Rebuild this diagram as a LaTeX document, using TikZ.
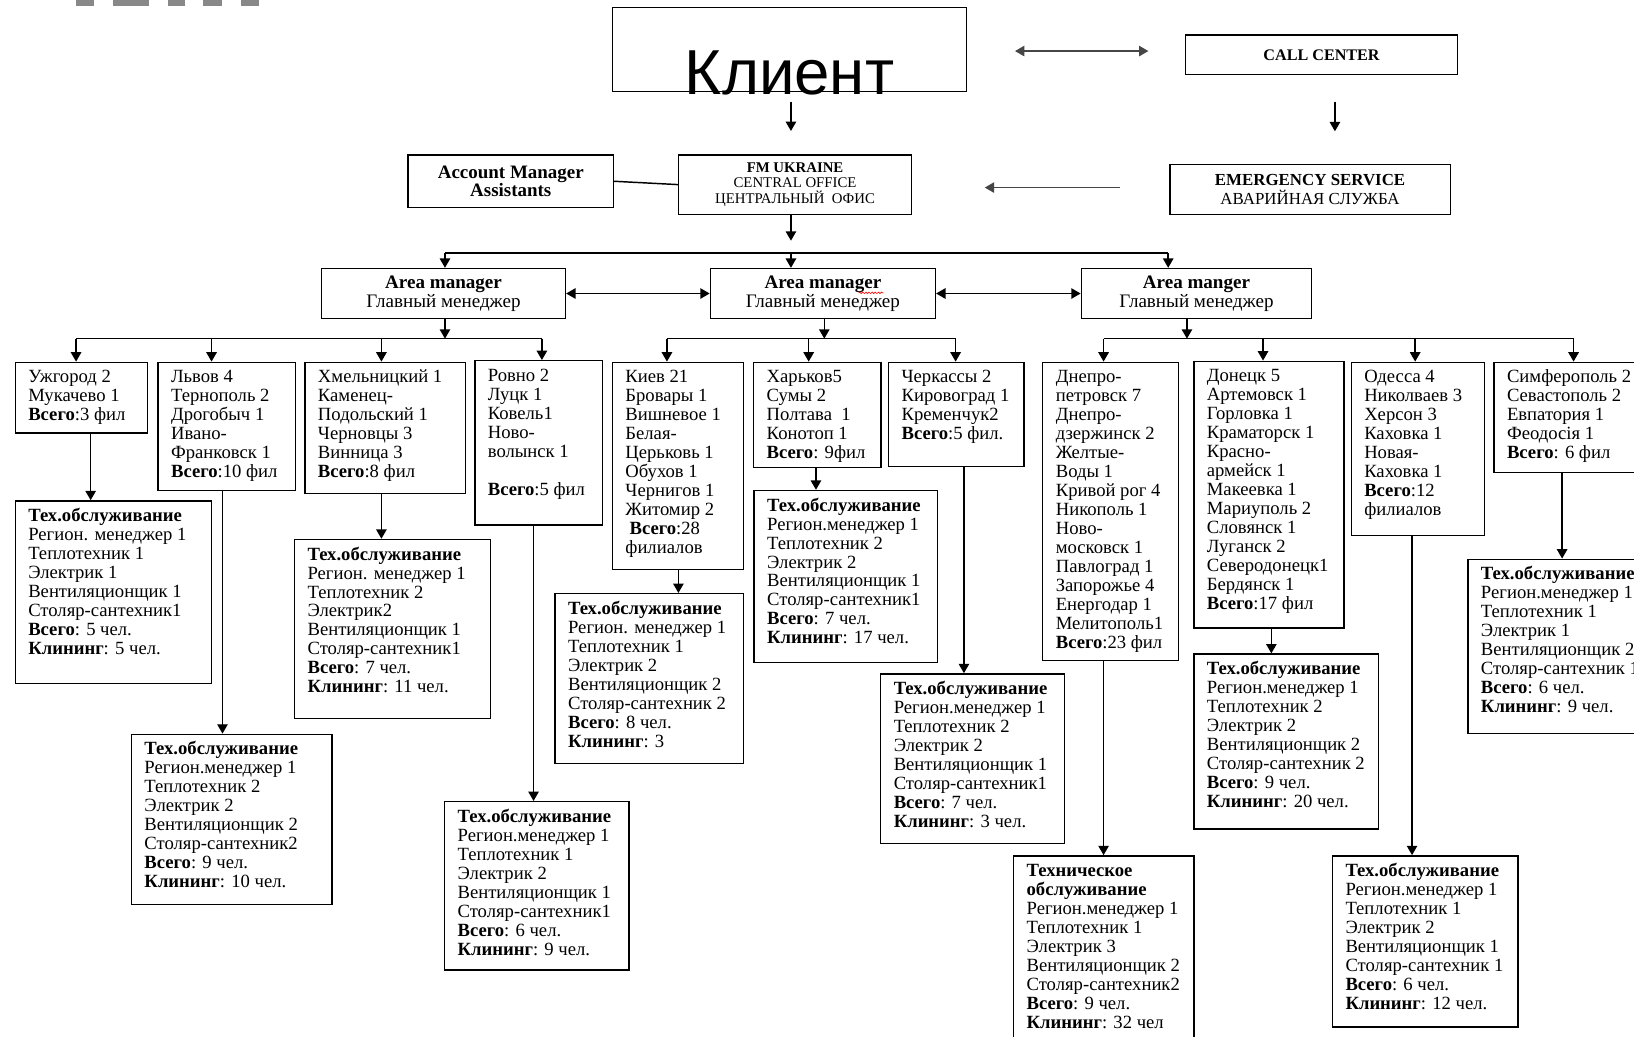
\documentclass[tikz,border=0pt]{standalone}
\usepackage{fontspec}
\setmainfont{Liberation Serif}
\newfontfamily\clientfont{Liberation Sans}
\usetikzlibrary{arrows.meta,decorations.pathmorphing}
\definecolor{linegray}{RGB}{70,70,70}
\definecolor{blockgray}{RGB}{136,136,136}

\tikzset{
  cell/.style 2 args={draw, line width=1.3pt, inner sep=0pt, anchor=north west,
    minimum width=#1, minimum height=#2},
  hdr/.style={draw, line width=1.3pt, inner sep=0pt, anchor=north west, align=center},
  areabox/.style={hdr, minimum height=48, font=\fontsize{18.3}{18}\selectfont},
  arr/.style={-{Triangle[length=9pt,width=10pt]}, line width=1.4pt},
  dblarr/.style={{Triangle[length=9pt,width=10pt]}-{Triangle[length=9pt,width=10pt]}, line width=1.4pt},
  bus/.style={line width=1.4pt},
}
% text of a box, set from its top left corner: width, height, lines
\newcommand{\cellbody}[3]{%
  \begin{minipage}[t][\dimexpr #2pt-14pt\relax][t]{\dimexpr #1pt-25pt\relax}%
    \begin{tabular}[t]{@{}l@{}}#3\end{tabular}%
  \end{minipage}}

\begin{document}
\begin{tikzpicture}[x=1pt, y=-1pt, font=\fontsize{17.9}{18.2}\selectfont]
\useasboundingbox[fill=white] (0,0) rectangle (1568,995);

\foreach \a/\b in {73/90, 108/143, 161/178, 195/213, 231/249}
  \fill[blockgray] (\a,0) rectangle (\b,5.5);

% top level
\node[hdr, minimum width=340, minimum height=80.6,
  label={[font=\clientfont\fontsize{61}{61}\selectfont, anchor=base, yshift=-2pt]south:Клиент}] (client) at (587,6.4) {};
\node[hdr, minimum width=261, minimum height=38, font=\bfseries\fontsize{15.5}{18}\selectfont] (callc) at (1137,33) {CALL CENTER};
\node[hdr, minimum width=197, minimum height=50.6, font=\bfseries\fontsize{18.2}{17.5}\selectfont] (accm) at (391,148) {Account Manager\\Assistants};
\node[hdr, minimum width=223.4, minimum height=57, font=\fontsize{14.2}{15}\selectfont] (office) at (650.6,148) {\textbf{FM UKRAINE}\\CENTRAL OFFICE\\ЦЕНТРАЛЬНЫЙ\ \ ОФИС};
\node[hdr, minimum width=269, minimum height=48, font=\fontsize{16.2}{18}\selectfont] (emerg) at (1122,157) {\textbf{EMERGENCY SERVICE}\\АВАРИЙНАЯ СЛУЖБА};

% area managers
\node[areabox, minimum width=234] (area1) at (308,257) {\textbf{Area manager}\\Главный менеджер};
\node[areabox, minimum width=216] (area2) at (681,257) {\textbf{Area manager}\\Главный менеджер};
\node[areabox, minimum width=221] (area3) at (1037,257) {\textbf{Area manger}\\Главный менеджер};
\draw[red, line width=0.6pt, decorate, decoration={snake, amplitude=0.7pt, segment length=3pt}] (824,281) -- (848,281);

% branches
\node[cell={127}{68}] (uzh) at (14,347) {\cellbody{127}{68}{Ужгород 2\\Мукачево 1\\\textbf{Всего}:3 фил}};
\node[cell={132}{123}] (lviv) at (151,347) {\cellbody{132}{123}{Львов 4\\Тернополь 2\\Дрогобыч 1\\Ивано-\\Франковск 1\\\textbf{Всего}:10 фил}};
\node[cell={154}{126}] (khm) at (292,347) {\cellbody{154}{126}{Хмельницкий 1\\Каменец-\\Подольский 1\\Черновцы 3\\Винница 3\\\textbf{Всего}:8 фил}};
\node[cell={122.5}{157.5}] (rovno) at (455,345.5) {\cellbody{122.5}{157.5}{Ровно 2\\Луцк 1\\Ковель1\\Ново-\\волынск 1\\ \\\textbf{Всего}:5 фил}};
\node[cell={126}{199}] (kiev) at (587,347) {\cellbody{126}{199}{Киев 21\\Бровары 1\\Вишневое 1\\Белая-\\Церьковь 1\\Обухов 1\\Чернигов 1\\Житомир 2\\\hspace{4pt}\textbf{Всего}:28\\филиалов}};
\node[cell={122}{101}] (khar) at (722.6,347) {\cellbody{122}{101}{Харьков5\\Сумы 2\\Полтава\ \ 1\\Конотоп 1\\\textbf{Всего}: 9фил}};
\node[cell={130}{100}] (cherk) at (852,347) {\cellbody{130}{100}{Черкассы 2\\Кировоград 1\\Кременчук2\\\textbf{Всего}:5 фил.}};
\node[cell={130}{286}] (dnepr) at (1000,347) {\cellbody{130}{286}{Днепро-\\петровск 7\\Днепро-\\дзержинск 2\\Желтые-\\Воды 1\\Кривой рог 4\\Никополь 1\\Ново-\\московск 1\\Павлоград 1\\Запорожье 4\\Енергодар 1\\Мелитополь1\\\textbf{Всего}:23 фил}};
\node[cell={144}{256}] (don) at (1145,346) {\cellbody{144}{256}{Донецк 5\\Артемовск 1\\Горловка 1\\Краматорск 1\\Красно-\\армейск 1\\Макеевка 1\\Мариуполь 2\\Словянск 1\\Луганск 2\\Северодонецк1\\Бердянск 1\\\textbf{Всего}:17 фил}};
\node[cell={128}{166}] (odessa) at (1296,347) {\cellbody{128}{166}{Одесса 4\\Николваев 3\\Херсон 3\\Каховка 1\\Новая-\\Каховка 1\\\textbf{Всего}:12\\филиалов}};
\node[cell={160}{106}] (simf) at (1433,347) {\cellbody{160}{106}{Симферополь 2\\Севастополь 2\\Евпатория 1\\Феодосія 1\\\textbf{Всего}: 6 фил}};

% maintenance teams
\node[cell={188.5}{175}] (uzhsvc) at (14,480) {\cellbody{188.5}{175}{\textbf{Тех.обслуживание}\\Регион. менеджер 1\\Теплотехник 1\\Электрик 1\\Вентиляционщик 1\\Столяр-сантехник1\\\textbf{Всего}: 5 чел.\\\textbf{Клининг}: 5 чел.}};
\node[cell={192.5}{163}] (lvivsvc) at (125.5,704) {\cellbody{192.5}{163}{\textbf{Тех.обслуживание}\\Регион.менеджер 1\\Теплотехник 2\\Электрик 2\\Вентиляционщик 2\\Столяр-сантехник2\\\textbf{Всего}: 9 чел.\\\textbf{Клининг}: 10 чел.}};
\node[cell={188}{172}] (khmsvc) at (282,517) {\cellbody{188}{172}{\textbf{Тех.обслуживание}\\Регион. менеджер 1\\Теплотехник 2\\Электрик2\\Вентиляционщик 1\\Столяр-сантехник1\\\textbf{Всего}: 7 чел.\\\textbf{Клининг}: 11 чел.}};
\node[cell={177}{161.4}] (rovnosvc) at (426,768.6) {\cellbody{177}{161.4}{\textbf{Тех.обслуживание}\\Регион.менеджер 1\\Теплотехник 1\\Электрик 2\\Вентиляционщик 1\\Столяр-сантехник1\\\textbf{Всего}: 6 чел.\\\textbf{Клининг}: 9 чел.}};
\node[cell={181}{163}] (kievsvc) at (532,569) {\cellbody{181}{163}{\textbf{Тех.обслуживание}\\Регион. менеджер 1\\Теплотехник 1\\Электрик 2\\Вентиляционщик 2\\Столяр-сантехник 2\\\textbf{Всего}: 8 чел.\\\textbf{Клининг}: 3}};
\node[cell={176}{165}] (kharsvc) at (723,470) {\cellbody{176}{165}{\textbf{Тех.обслуживание}\\Регион.менеджер 1\\Теплотехник 2\\Электрик 2\\Вентиляционщик 1\\Столяр-сантехник1\\\textbf{Всего}: 7 чел.\\\textbf{Клининг}: 17 чел.}};
\node[cell={176.5}{163}] (cherksvc) at (844.5,646) {\cellbody{176.5}{163}{\textbf{Тех.обслуживание}\\Регион.менеджер 1\\Теплотехник 2\\Электрик 2\\Вентиляционщик 1\\Столяр-сантехник1\\\textbf{Всего}: 7 чел.\\\textbf{Клининг}: 3 чел.}};
\node[cell={173}{190}] (dneprsvc) at (972,820.6) {\cellbody{173}{190}{\textbf{Техническое}\\\textbf{обслуживание}\\Регион.менеджер 1\\Теплотехник 1\\Электрик 3\\Вентиляционщик 2\\Столяр-сантехник2\\\textbf{Всего}: 9 чел.\\\textbf{Клининг}: 32 чел}};
\node[cell={177}{168}] (donsvc) at (1145,627) {\cellbody{177}{168}{\textbf{Тех.обслуживание}\\Регион.менеджер 1\\Теплотехник 2\\Электрик 2\\Вентиляционщик 2\\Столяр-сантехник 2\\\textbf{Всего}: 9 чел.\\\textbf{Клининг}: 20 чел.}};
\node[cell={178}{164.4}] (odessasvc) at (1278,820.6) {\cellbody{178}{164.4}{\textbf{Тех.обслуживание}\\Регион.менеджер 1\\Теплотехник 1\\Электрик 2\\Вентиляционщик 1\\Столяр-сантехник 1\\\textbf{Всего}: 6 чел.\\\textbf{Клининг}: 12 чел.}};
\node[cell={180}{167}] (simfsvc) at (1408,536) {\cellbody{180}{167}{\textbf{Тех.обслуживание}\\Регион.менеджер 1\\Теплотехник 1\\Электрик 1\\Вентиляционщик 2\\Столяр-сантехник 1\\\textbf{Всего}: 6 чел.\\\textbf{Клининг}: 9 чел.}};

% connectors at the top
\coordinate (ccA) at (974,49);
\coordinate (ccB) at (1102,49);
\coordinate (clA) at (759,97.6);
\coordinate (clB) at (759,125.7);
\coordinate (emA) at (1281,97.6);
\coordinate (emB) at (1281,126);
\coordinate (emC) at (1075,180);
\coordinate (emD) at (945,180);
\coordinate (ofA) at (759,231);
\draw[dblarr, linegray] (ccA) -- (ccB);
\draw[arr] (clA) -- (clB);
\draw[arr] (emA) -- (emB);
\draw[arr, linegray] (emC) -- (emD);
\draw[bus] (accm.east) -- (office.west);
\draw[arr] (office.south -| ofA) -- (ofA);

\draw[bus] (427,243) coordinate (topL) -- (1121,243) coordinate (topR);
\draw[arr] (topL) -- (area1.north -| topL);
\draw[arr] (ofA |- topL) -- (area2.north -| ofA);
\draw[arr] (topR) -- (area3.north -| topR);
\draw[dblarr] (area1.east) -- (area2.west);
\draw[dblarr] (area2.east) -- (area3.west);

% area 1
\coordinate (bus1) at (427,325);
\draw[arr] (area1.south -| bus1) -- (bus1);
\draw[bus] (73,325) -- (520,325);
\foreach \n/\x in {uzh/73, lviv/203, khm/366, rovno/520}
  \draw[arr] (\x,325) -- (\n.north -| \x,0);
% area 2
\coordinate (bus2) at (791,325);
\draw[arr] (area2.south -| bus2) -- (bus2);
\draw[bus] (640,325) -- (917,325);
\foreach \n/\x in {kiev/640, khar/776, cherk/917}
  \draw[arr] (\x,325) -- (\n.north -| \x,0);
% area 3
\coordinate (bus3) at (1139,325);
\draw[arr] (area3.south -| bus3) -- (bus3);
\draw[bus] (1059,325) -- (1510,325);
\foreach \n/\x in {dnepr/1059, don/1212, odessa/1358, simf/1510}
  \draw[arr] (\x,325) -- (\n.north -| \x,0);

% branch to its team
\foreach \a/\x in {uzh/87, lviv/213.5, khm/366, rovno/512, kiev/651, khar/783, cherk/925, dnepr/1059, don/1220, odessa/1355, simf/1499}
  \draw[arr] (\a.south -| \x,0) -- (\a svc.north -| \x,0);
\end{tikzpicture}
\end{document}
